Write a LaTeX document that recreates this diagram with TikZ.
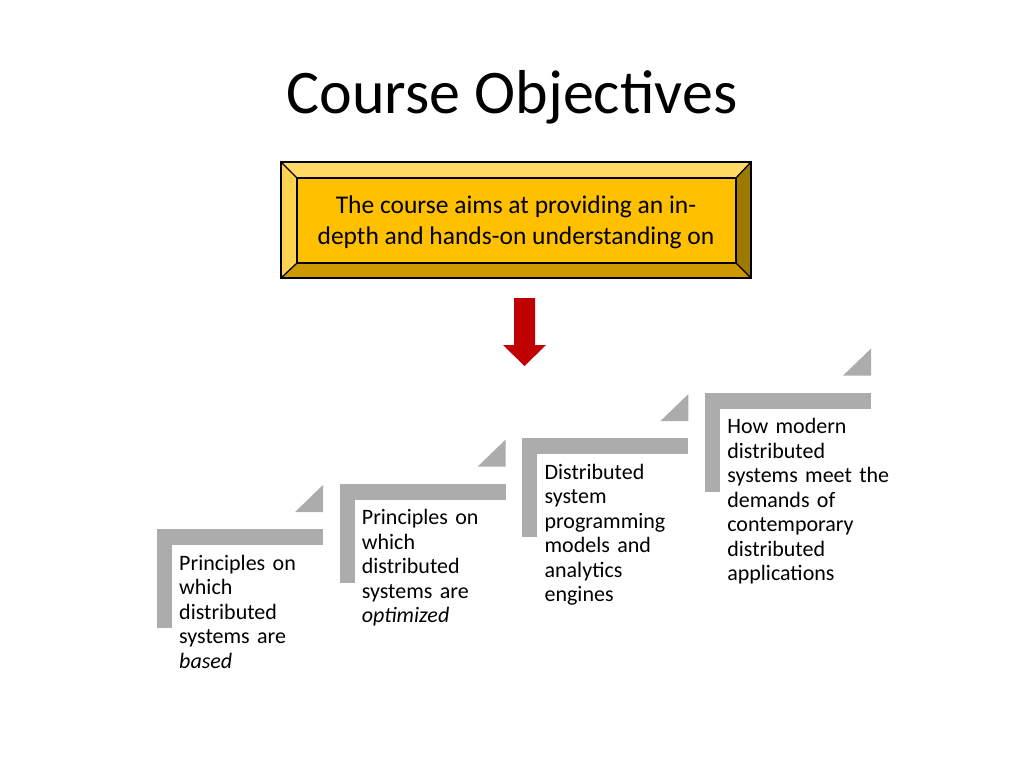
\documentclass[tikz,border=0pt]{standalone}
\usepackage{fontspec}
\setmainfont{Carlito}
\begin{document}
\begin{tikzpicture}[x=1pt,y=-1pt,
  stepbar/.style={fill=gray!65!white,draw=none},
  steptext/.style={anchor=north west,align=left,text width=200pt,inner sep=0pt,font=\fontsize{22}{24.5}\selectfont}]
\useasboundingbox (0,0) rectangle (1024,768);
\node (title) at (512,97) {\fontsize{62}{70}\selectfont Course Objectives};
% bevel box
\fill[fill={rgb,255:red,255;green,217;blue,102}] (281,162) -- (751,162) -- (736,178) -- (297,178) -- cycle;
\fill[fill={rgb,255:red,255;green,210;blue,80}] (281,162) -- (297,178) -- (297,263) -- (281,278) -- cycle;
\fill[fill={rgb,255:red,204;green,153;blue,0}] (281,278) -- (297,263) -- (736,263) -- (751,278) -- cycle;
\fill[fill={rgb,255:red,156;green,122;blue,0}] (751,162) -- (736,178) -- (736,263) -- (751,278) -- cycle;
\draw[line width=1.3pt] (281,162) -- (297,178) (751,162) -- (736,178) (281,278) -- (297,263) (751,278) -- (736,263);
\node[draw,line width=1.3pt,fill={rgb,255:red,255;green,192;blue,0},minimum width=439pt,minimum height=85pt,inner sep=0pt] (inner) at (516.5,220.5) {};
\draw[line width=1.5pt] (281,162) rectangle (751,278);
\node[align=center,font=\fontsize{25.5}{31}\selectfont] (aim) at (516,222) {The course aims at providing an in-\\depth and hands-on understanding on};
% arrow
\fill[fill={rgb,255:red,192;green,0;blue,0}] (514,298) -- (535,298) -- (535,345) -- (546,345) -- (524.5,366) -- (503,345) -- (514,345) -- cycle;
\coordinate (arr) at (524.5,366);
% steps
\foreach \i/\t in {0/{Principles on\\which\\distributed\\systems are\\\textit{based}},
                   1/{Principles on\\which\\distributed\\systems are\\\textit{optimized}},
                   2/{Distributed\\system\\programming\\models and\\analytics\\engines},
                   3/{How modern\\distributed\\systems meet the\\demands of\\contemporary\\distributed\\applications}}{
  \begin{scope}[shift={(182.7*\i,-45.5*\i)}]
    \fill[stepbar] (157,529) rectangle (323,545);
    \fill[stepbar] (157,529) rectangle (172,628);
    \fill[stepbar] (295,512) -- (323,485) -- (323,512) -- cycle;
    \node[steptext] (s\i) at (179,555) {\raggedright\t};
  \end{scope}
}
\end{tikzpicture}
\end{document}
